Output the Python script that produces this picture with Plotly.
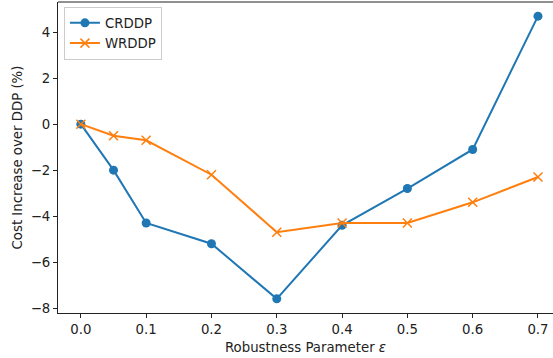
import plotly.graph_objects as go

eps = [0.0, 0.05, 0.1, 0.2, 0.3, 0.4, 0.5, 0.6, 0.7]
crddp = [0.0, -2.0, -4.3, -5.2, -7.6, -4.4, -2.8, -1.1, 4.7]
wrddp = [0.0, -0.5, -0.7, -2.2, -4.7, -4.3, -4.3, -3.4, -2.3]
xticks = [0.0, 0.1, 0.2, 0.3, 0.4, 0.5, 0.6, 0.7]
yticks = [-8, -6, -4, -2, 0, 2, 4]
ytick_labels = ["−8", "−6", "−4", "−2", "0", "2", "4"]

blue = "#1f77b4"
orange = "#ff7f0e"
font = "DejaVu Sans"
fs = 13.3

fig = go.Figure()
fig.add_trace(go.Scatter(x=eps, y=crddp, mode="lines+markers", name="CRDDP",
                         line=dict(color=blue, width=2),
                         marker=dict(symbol="circle", size=9, color=blue)))
fig.add_trace(go.Scatter(x=eps, y=wrddp, mode="lines+markers", name="WRDDP",
                         line=dict(color=orange, width=2),
                         marker=dict(symbol="x-thin", size=9, color=orange,
                                     line=dict(color=orange, width=1.5))))

axis_common = dict(showline=True, linecolor="#222", linewidth=1, mirror=False,
                   showgrid=False, zeroline=False, ticks="outside", ticklen=4,
                   tickwidth=1, tickcolor="#222",
                   tickfont=dict(family=font, size=fs, color="#222"))

fig.update_xaxes(range=[-0.035, 0.723], tickvals=xticks, tickformat=".1f",
                 title=dict(text="Robustness Parameter <i>ε</i>", standoff=6,
                            font=dict(family=font, size=fs, color="#222")),
                 **axis_common)
fig.update_yaxes(range=[-8.215, 5.315], tickvals=yticks, ticktext=ytick_labels,
                 title=dict(text="Cost Increase over DDP (%)", standoff=5,
                            font=dict(family=font, size=fs, color="#222")),
                 **axis_common)

fig.add_shape(type="line", xref="paper", yref="paper", x0=0, x1=1, y0=1, y1=1,
              line=dict(color="#222", width=1))

fig.update_layout(
    width=553, height=358,
    margin=dict(l=58, r=0, t=2, b=45),
    plot_bgcolor="white", paper_bgcolor="white",
    font=dict(family=font, size=fs, color="#222"),
    legend=dict(x=0.012, y=0.985, xanchor="left", yanchor="top",
                bgcolor="rgba(255,255,255,0.8)", bordercolor="#cccccc",
                borderwidth=1, font=dict(family=font, size=fs, color="#222"),
                tracegroupgap=0, itemwidth=30),
)

fig.write_html("out.html")
